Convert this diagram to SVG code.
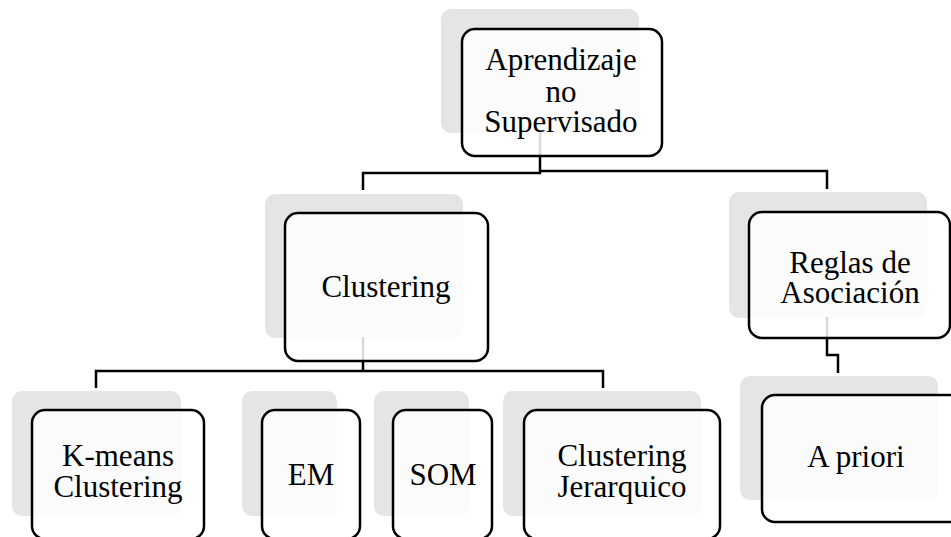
<svg xmlns="http://www.w3.org/2000/svg" width="951" height="537" viewBox="0 0 951 537">
  <style>
    .shadow { fill: #e5e5e5; }
    .box { fill: #ffffff; fill-opacity: 0.85; stroke: #000000; stroke-width: 2.5; }
    .label { font-family: "Liberation Serif", "Times New Roman", serif; font-size: 31px; fill: #000000; text-anchor: middle; }
    .wire { fill: none; stroke: #000000; stroke-width: 2.5; }
  </style>
  <rect width="951" height="537" fill="#ffffff"/>

  <!-- back plates behind each node -->
  <g id="shadows">
    <rect class="shadow" x="441" y="9" width="198" height="124" rx="10"/>
    <rect class="shadow" x="265" y="194" width="198" height="144" rx="10"/>
    <rect class="shadow" x="729" y="192" width="198" height="126" rx="10"/>
    <rect class="shadow" x="12" y="391" width="169" height="125" rx="10"/>
    <rect class="shadow" x="242" y="391" width="95" height="125" rx="10"/>
    <rect class="shadow" x="374" y="391" width="95" height="125" rx="10"/>
    <rect class="shadow" x="503" y="391" width="198" height="125" rx="10"/>
    <rect class="shadow" x="740" y="376" width="198" height="124" rx="10"/>
  </g>

  <!-- elbow connectors between levels -->
  <g id="connectors">
    <path class="wire" d="M540,132 V173 M363,190 V173 H540 V171 H827 V189"/>
    <path class="wire" d="M363,337 V371 M96,388 V371 H603 V388"/>
    <path class="wire" d="M827,317 V355 H838 V373"/>
  </g>

  <g id="node-aprendizaje">
    <rect class="box" x="462" y="29" width="200" height="127" rx="13"/>
    <text class="label" x="561" y="70">Aprendizaje</text>
    <text class="label" x="561" y="102">no</text>
    <text class="label" x="561" y="132">Supervisado</text>
  </g>

  <g id="node-clustering">
    <rect class="box" x="285" y="213" width="203" height="148" rx="13"/>
    <text class="label" x="386" y="297">Clustering</text>
  </g>

  <g id="node-reglas">
    <rect class="box" x="749" y="212" width="201" height="126" rx="13"/>
    <text class="label" x="850" y="273">Reglas de</text>
    <text class="label" x="850" y="303">Asociación</text>
  </g>

  <g id="node-kmeans">
    <rect class="box" x="32" y="410" width="172" height="129" rx="13"/>
    <text class="label" x="118" y="466">K-means</text>
    <text class="label" x="118" y="497">Clustering</text>
  </g>

  <g id="node-em">
    <rect class="box" x="262" y="410" width="98" height="129" rx="13"/>
    <text class="label" x="311" y="485">EM</text>
  </g>

  <g id="node-som">
    <rect class="box" x="393" y="410" width="99" height="129" rx="13"/>
    <text class="label" x="443" y="485">SOM</text>
  </g>

  <g id="node-jerarquico">
    <rect class="box" x="524" y="410" width="196" height="129" rx="13"/>
    <text class="label" x="622" y="466">Clustering</text>
    <text class="label" x="622" y="497">Jerarquico</text>
  </g>

  <g id="node-apriori">
    <rect class="box" x="762" y="395" width="201" height="127" rx="13"/>
    <text class="label" x="856" y="467">A priori</text>
  </g>
</svg>
